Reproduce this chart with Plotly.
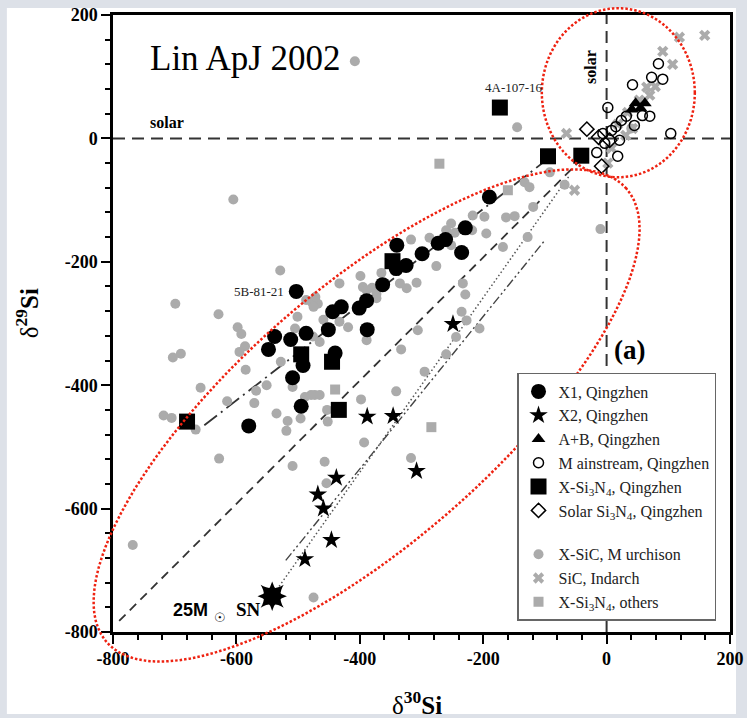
import numpy as np
import plotly.graph_objects as go

# ---------------- data (delta30Si, delta29Si in permil) ----------------
# X1 grains, Qingzhen
x1_d30 = [-503, -538, -548, -512, -487, -444, -430, -401, -389, -363, -340, -451, -388,
          -492, -509, -495, -580, -190, -229, -261, -273, -235, -299, -325, -341, -440]
x1_d29 = [-248, -321, -342, -326, -316, -281, -273, -275, -263, -237, -173, -310, -310,
          -368, -388, -434, -466, -95, -145, -164, -170, -185, -187, -206, -211, -348]
# X2 grains, Qingzhen
x2_d30 = [-388, -346, -438, -468, -459, -446, -489, -308, -249]
x2_d29 = [-451, -450, -550, -577, -600, -651, -682, -539, -301]
# A+B grains, Qingzhen
ab_d30 = [47, 55, 41, 62]
ab_d29 = [57, 49, 47, 57]
# Mainstream grains, Qingzhen
ms_d30 = [84, 73, 91, 42, 2, 70, 58, 104, 18, -16, -3, 8, 15, 24, 32, -6, 21, 45]
ms_d29 = [121, 99, 96, 87, 50, 36, 37, 8, -29, -23, -8, 13, 19, 29, 36, 8, -3, 21]
# X-Si3N4, Qingzhen
xsn_d30 = [-173, -95, -41, -347, -680, -495, -445, -434]
xsn_d29 = [50, -29, -28, -199, -459, -350, -362, -440]
# Solar Si3N4, Qingzhen
ssn_d30 = [-32, -8, -13, 5]
ssn_d29 = [15, -45, 2, -3]
# X-SiC, Murchison
mur_d30 = [-408, -605, -529, -699, -629, -598, -592, -501, -505, -487, -478, -468, -703, -690,
           -586, -595, -585, -658, -615, -571, -568, -551, -718, -705, -666, -628, -535, -517,
           -519, -496, -509, -479, -528, -509, -768, -475, -133, -125, -198, -217, -163, -119,
           -128, -252, -260, -246, -218, -252, -287, -317, -276, -308, -324, -335, -399, -433,
           -395, -380, -365, -373, -472, -459, -475, -419, -433, -168, -233, -229, -227, -235,
           -206, -476, -465, -473, -489, -453, -398, -393, -457, -454, -341, -333, -295, -317,
           -260, -244, -306, -145, 40, -92, -68, -10, -465, -452, -389, -389, -373, -195, -149]
mur_d29 = [125, -99, -214, -268, -285, -306, -317, -289, -308, -262, -265, -268, -355, -349,
           -337, -346, -375, -404, -426, -429, -409, -400, -449, -453, -472, -519, -446, -458,
           -474, -454, -531, -416, -362, -403, -659, -744, -71, -79, -127, -125, -128, -111,
           -160, -138, -149, -153, -149, -173, -161, -164, -207, -234, -243, -235, -223, -235,
           -241, -242, -218, -252, -257, -294, -273, -306, -297, -176, -235, -253, -295, -281,
           -308, -321, -330, -416, -419, -440, -423, -493, -524, -559, -410, -342, -378, -518,
           -350, -322, -311, 18, 16, -55, -75, -147, -416, -459, -327, -246, -259, -154, -126]
# SiC, Indarch
ind_d30 = [118, 159, 91, 107, 65, 79, 53, 34, 18, 31, 42, -65, 2, -52, 8, 70]
ind_d29 = [164, 167, 141, 120, 83, 84, 62, 42, 23, 5, 16, 8, -40, -84, -16, 70]
# X-Si3N4, others
xso_d30 = [-271, -160, -440, -284]
xso_d29 = [-41, -84, -407, -468]
# 25 Msun supernova model point
sn_d30 = [-542]
sn_d29 = [-742]
# model / trend lines
slope1_d30 = [-790, -45]
slope1_d29 = [-782, -38]
x1fit_d30 = [-652, -95]
x1fit_d29 = [-465, -33]
sndot_d30 = [-542, -60]
sndot_d29 = [-742, -60]
x2fit_d30 = [-520, -100]
x2fit_d29 = [-684, -165]
solar_ref = [0, 0]
axis_span = [-800, 200]

tick_vals = [-800, -600, -400, -200, 0, 200]
tick_text = ["-800", "-600", "-400", "-200", "0", "200"]

SERIF = "Liberation Serif"
fig = go.Figure()

def line(xs, ys, dash, width=1.8, color="#333333"):
    fig.add_trace(go.Scatter(x=xs, y=ys, mode="lines", showlegend=False, hoverinfo="skip",
                             line=dict(color=color, width=width, dash=dash)))

line(axis_span, solar_ref, "12px,7px", 2)
line(solar_ref, axis_span, "12px,7px", 2)
line(slope1_d30, slope1_d29, "9px,6px", 1.8)
line(x1fit_d30, x1fit_d29, "16px,5px,2px,5px", 1.8)
line(x2fit_d30, x2fit_d29, "9px,3px,2px,3px,2px,3px", 1.4, "#444444")
line(sndot_d30, sndot_d29, "1.5px,2.5px", 1.5, "#555555")

GRAY = "#ababab"

def pts(xs, ys, name, symbol, size, color, group, rank, line_w=0, line_c=None):
    fig.add_trace(go.Scatter(x=xs, y=ys, mode="markers", name=name, legendgroup=group,
                             legendrank=rank,
                             marker=dict(symbol=symbol, size=size, color=color,
                                         line=dict(width=line_w, color=line_c or color))))

pts(mur_d30, mur_d29, "X-SiC, M urchison", "circle", 10, GRAY, "g2", 7)
pts(ind_d30, ind_d29, "SiC, Indarch", "x", 10, GRAY, "g2", 8)
pts(xso_d30, xso_d29, "X-Si<sub>3</sub>N<sub>4</sub>, others", "square", 10, GRAY, "g2", 9)
pts(ms_d30, ms_d29, "M ainstream, Qingzhen", "circle-open", 10, "black", "g1", 4, 1.5, "black")
pts(ssn_d30, ssn_d29, "Solar Si<sub>3</sub>N<sub>4</sub>, Qingzhen", "diamond-open", 11, "black", "g1", 6, 1.5, "black")
pts(ab_d30, ab_d29, "A+B, Qingzhen", "triangle-up", 12, "black", "g1", 3)
pts(x1_d30, x1_d29, "X1, Qingzhen", "circle", 15, "black", "g1", 1)
pts(x2_d30, x2_d29, "X2, Qingzhen", "star", 14, "black", "g1", 2)
pts(xsn_d30, xsn_d29, "X-Si<sub>3</sub>N<sub>4</sub>, Qingzhen", "square", 16, "black", "g1", 5)

# supernova model: 8-pointed star
for sym in ["star-diamond", "star-square"]:
    fig.add_trace(go.Scatter(x=sn_d30, y=sn_d29, mode="markers", showlegend=False,
                             marker=dict(symbol=sym, size=21, color="black")))

# ---------------- red dotted ellipses (paper coords) ----------------
def ellipse_path(cx, cy, a, b, ang_deg, n=120):
    t = np.linspace(0, 2 * np.pi, n)
    th = np.radians(ang_deg)
    x = cx + a * np.cos(t) * np.cos(th) - b * np.sin(t) * np.sin(th)
    y = cy + a * np.cos(t) * np.sin(th) + b * np.sin(t) * np.cos(th)
    xp = (x + 800) / 1000.0
    yp = (y + 800) / 1000.0
    return "M " + " L ".join(f"{u:.4f},{v:.4f}" for u, v in zip(xp, yp)) + " Z"

shapes = [
    dict(type="rect", xref="paper", yref="paper", x0=-0.172, x1=1.0097, y0=-0.133, y1=1.0113,
         fillcolor="white", line=dict(width=0), layer="below"),
    dict(type="path", xref="paper", yref="paper", path=ellipse_path(-389, -449, 559, 206, 41.1),
         line=dict(color="#ee2211", width=2.5, dash="2.5px,2px")),
    dict(type="path", xref="paper", yref="paper", path=ellipse_path(19, 74, 124, 137, 0),
         line=dict(color="#ee2211", width=2.5, dash="2.5px,2px")),
]

annotations = [
    dict(x=-744, y=130, text="Lin ApJ 2002", xanchor="left", yanchor="middle", showarrow=False,
         font=dict(family=SERIF, size=35, color="black")),
    dict(x=-744, y=26, text="<b>solar</b>", xanchor="left", yanchor="middle", showarrow=False,
         font=dict(family=SERIF, size=16, color="black")),
    dict(x=-26, y=115, text="<b>solar</b>", textangle=-90, xanchor="center", yanchor="middle",
         showarrow=False, font=dict(family=SERIF, size=16, color="black")),
    dict(x=-201, y=83, text="4A-107-16", xanchor="left", yanchor="middle", showarrow=False,
         font=dict(family=SERIF, size=13, color="#222")),
    dict(x=-520, y=-248, text="5B-81-21", xanchor="right", yanchor="middle", showarrow=False,
         font=dict(family=SERIF, size=13, color="#222")),
    dict(x=37, y=-343, text="<b>(a)</b>", xanchor="center", yanchor="middle", showarrow=False,
         font=dict(family=SERIF, size=27, color="black")),
    dict(x=-642, y=-764, text="<b>25M</b>", xanchor="right", yanchor="middle", showarrow=False,
         font=dict(family="Liberation Sans", size=18, color="black")),
    dict(x=-626, y=-777, text="☉", xanchor="center", yanchor="middle", showarrow=False,
         font=dict(family="DejaVu Sans", size=13, color="black")),
    dict(x=-604, y=-764, text="<b>SN</b>", xanchor="left", yanchor="middle", showarrow=False,
         font=dict(family=SERIF, size=19, color="black")),
    # axis titles
    dict(x=0.4927, y=-0.115, xref="paper", yref="paper", text="δ<sup><b>30</b></sup><b>Si</b>",
         xanchor="center", yanchor="middle", showarrow=False,
         font=dict(family=SERIF, size=25, color="black")),
    dict(x=-0.139, y=0.517, xref="paper", yref="paper", text="δ<sup><b>29</b></sup><b>Si</b>",
         textangle=-90, xanchor="center", yanchor="middle", showarrow=False,
         font=dict(family=SERIF, size=25, color="black")),
]

axis_common = dict(range=axis_span, tickmode="array", tickvals=tick_vals, ticktext=tick_text,
                   showline=True, linewidth=2.5, linecolor="black", mirror=True,
                   ticks="outside", ticklen=9, tickwidth=2, tickcolor="black",
                   minor=dict(tickmode="linear", tick0=-800, dtick=40, ticks="outside",
                              ticklen=5, tickwidth=1.5, tickcolor="black"),
                   showgrid=False, zeroline=False, automargin=False,
                   tickfont=dict(family=SERIF, size=18, color="black", weight="bold"))

fig.update_layout(
    width=747, height=718,
    margin=dict(l=113, r=17, t=15, b=86),
    paper_bgcolor="#dde1e8", plot_bgcolor="white",
    xaxis=dict(**axis_common),
    yaxis=dict(**axis_common),
    legend=dict(x=0.6548, y=0.4198, xanchor="left", yanchor="top", bgcolor="white",
                bordercolor="#666666", borderwidth=1.5, tracegroupgap=20,
                traceorder="grouped", itemsizing="trace",
                font=dict(family=SERIF, size=16, color="#222")),
    shapes=shapes, annotations=annotations, showlegend=True,
)

fig.write_html("out.html", config={"displayModeBar": False},
               post_script="document.body.style.margin='0px';")
